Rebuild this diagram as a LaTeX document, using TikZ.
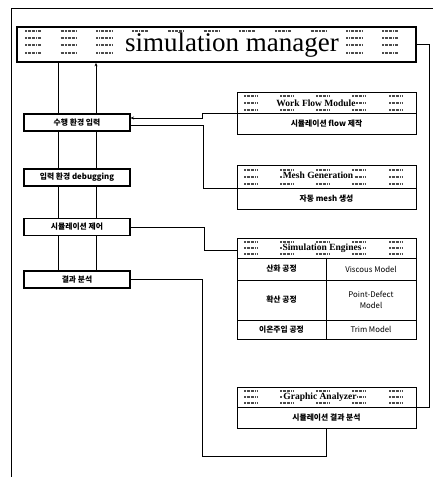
\documentclass[tikz,border=0pt]{standalone}
\usepackage{fontspec}
\setmainfont{Liberation Serif}
\newfontfamily\cjk{Noto Sans CJK KR}
\usetikzlibrary{arrows.meta,calc}
\begin{document}
\begin{tikzpicture}[x=1pt,y=-1pt,
  lbox/.style={draw,line width=1.1pt,minimum width=106pt,minimum height=17pt,inner sep=0pt,font=\cjk\fontsize{7.8}{9}\selectfont},
  rbox/.style={draw,line width=1pt,minimum width=179pt,inner sep=0pt,font=\cjk\fontsize{7.8}{9}\selectfont},
  cell/.style={inner sep=0pt,font=\cjk\fontsize{7.8}{11}\selectfont,align=center},
  htext/.style={fill=white,inner sep=0.6pt,font=\bfseries\fontsize{9.5}{10}\selectfont},
  blob/.style={gray!60!black,line width=1.5pt,dash pattern=on 2pt off 0.6pt on 1pt off 0.6pt},
  conn/.style={line width=0.8pt},
  tip/.style={-{Stealth[length=3.5pt,width=3pt]}}
  ]
\useasboundingbox (0,0) rectangle (433,477);
% outer frame (cut off)
\draw[line width=0.9pt] (11,477) -- (11,8) -- (433,8);

% simulation manager
\node[draw,line width=1.8pt,minimum width=399pt,minimum height=35pt,inner sep=0pt] (mgr) at (216.5,44.5) {};
\foreach \cx in {33,68.7,...,395} \foreach \ry in {31,38,45,53} \draw[blob] (\cx-8,\ry) -- (\cx+8,\ry);
\node[fill=white,inner sep=1pt,font=\fontsize{27}{28}\selectfont] at (232,45) {simulation manager};

\coordinate (L) at (58,0);
\coordinate (R) at (96,0);

% left process boxes
\node[lbox] (b1) at (77,122.5) {\bfseries 수행 환경 입력};
\node[lbox] (b2) at (77,177.5) {\bfseries 입력 환경 debugging};
\node[lbox] (b3) at (77,227) {\bfseries 시뮬레이션 제어};
\node[lbox] (b4) at (77,279.5) {\bfseries 결과 분석};

\draw[conn] (mgr.south -| L) -- (b1.north -| L);
\draw[conn,tip] (b1.north -| R) -- (mgr.south -| R);
\draw[conn] (b1.south -| L) -- (b2.north -| L);
\draw[conn] (b2.north -| R) -- (b1.south -| R);
\draw[conn] (b2.south -| L) -- (b3.north -| L);
\draw[conn] (b3.north -| R) -- (b2.south -| R);
\draw[conn] (b3.south -| L) -- (b4.north -| L);
\draw[conn] (b4.north -| R) -- (b3.south -| R);

% Work Flow Module
\node[rbox,minimum height=21pt] (wfh) at (326.5,102.5) {};
\foreach \cx in {251,287,323,359,396} \foreach \ry in {96,103,110} \draw[blob] (\cx-7,\ry) -- (\cx+7,\ry);
\node[htext] at (316,103) {Work Flow Module};
\node[rbox,minimum height=21pt] (wfb) at (326.5,123.5) {\bfseries 시뮬레이션 flow 제작};

% Mesh Generation
\node[rbox,minimum height=23pt] (mh) at (326.5,176.5) {};
\foreach \cx in {251,287,323,359,396} \foreach \ry in {170,177,184} \draw[blob] (\cx-7,\ry) -- (\cx+7,\ry);
\node[htext] at (318,175) {Mesh Generation};
\node[rbox,minimum height=21pt] (mb) at (326.5,198.5) {\bfseries 자동 mesh 생성};

% Simulation Engines
\node[rbox,minimum height=20pt] (seh) at (326.5,248) {};
\foreach \cx in {251,287,323,359,396} \foreach \ry in {242,248,254} \draw[blob] (\cx-7,\ry) -- (\cx+7,\ry);
\node[htext] at (322,248) {Simulation Engines};
\node[rbox,minimum height=81pt] (seb) at (326.5,298.5) {};
\draw[line width=0.8pt] (seb.north -| 326,0) -- (seb.south -| 326,0);
\draw[line width=0.8pt] (237,280) -- (416,280);
\draw[line width=0.8pt] (237,320) -- (416,320);
\node[cell] (s1a) at (281.5,269) {\bfseries 산화 공정};
\node[cell] (s1b) at (371,269) {Viscous Model};
\node[cell] (s2a) at (281.5,300) {\bfseries 확산 공정};
\node[cell] (s2b) at (371,300) {Point-Defect\\Model};
\node[cell] (s3a) at (281.5,329.5) {\bfseries 이온주입 공정};
\node[cell] (s3b) at (371,329.5) {Trim Model};

% Graphic Analyzer
\node[rbox,minimum height=20pt] (gah) at (326.5,397) {};
\foreach \cx in {251,287,323,359,396} \foreach \ry in {391,397,403} \draw[blob] (\cx-7,\ry) -- (\cx+7,\ry);
\node[htext] at (320,397) {Graphic Analyzer};
\node[rbox,minimum height=21pt] (gab) at (326.5,417.5) {\bfseries 시뮬레이션 결과 분석};

% connectors
\draw[conn,tip] (wfh.south west) -- ++(-34,0) |- ($(b1.east)+(0,-4.5)$);
\draw[conn] ($(b1.east)+(0,3)$) -- ++(73,0) |- (mh.south west);
\draw[conn] (b3.east) -- ++(74,0) |- ($(seh.west)+(0,2.5)$);
\draw[conn] (b4.east) -- ++(72,0) -- ++(0,176.5) -| (gab.south);
\draw[conn] (mgr.east) -- ++(12,0) |- (gah.south east);
\end{tikzpicture}
\end{document}
